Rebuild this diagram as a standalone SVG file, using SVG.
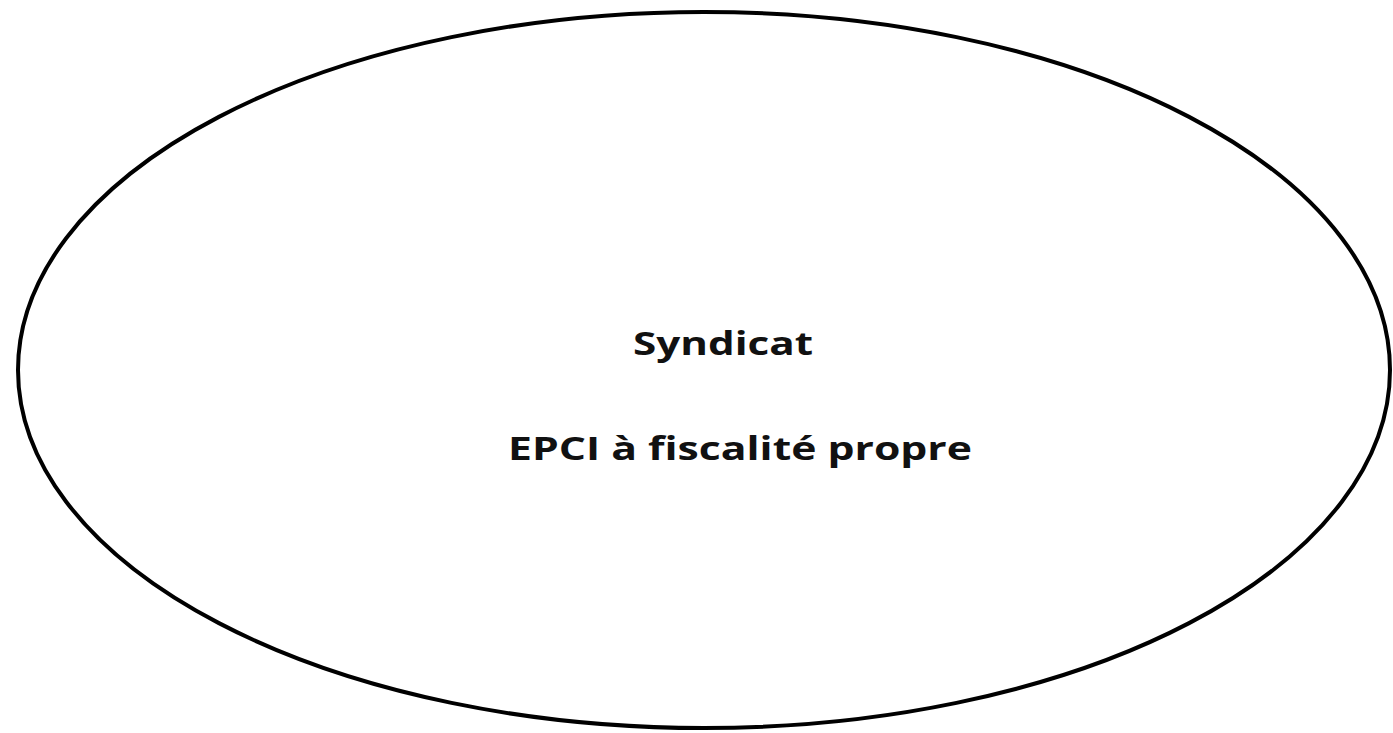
<svg xmlns="http://www.w3.org/2000/svg" width="1393" height="733" viewBox="0 0 1393 733">
<style>
.shape{fill:#ffffff;stroke:#000000;stroke-width:4}
.lbl{font-family:"Open Sans","Liberation Sans",sans-serif;font-weight:bold;font-size:33px;fill:#111111}
</style>
<rect width="1393" height="733" fill="#ffffff"/>
<g id="node-ellipse">
<ellipse class="shape" cx="704" cy="370" rx="686" ry="358"/>
<text class="lbl" x="633" y="355" textLength="180" lengthAdjust="spacingAndGlyphs">Syndicat</text>
<text class="lbl" x="508" y="460" textLength="464" lengthAdjust="spacingAndGlyphs">EPCI à fiscalité propre</text>
</g>
<g id="connectors"></g>
</svg>
